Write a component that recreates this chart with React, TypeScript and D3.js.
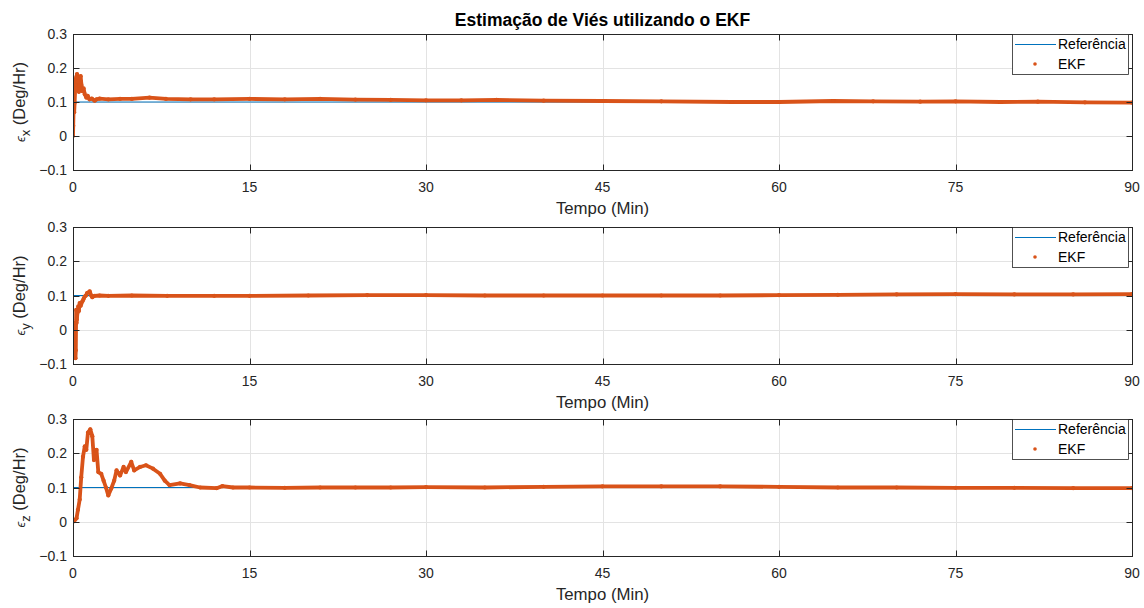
import React from "react";
import * as d3 from "d3";

const TITLE = "Estimação de Viés utilizando o EKF";
const X_LABEL = "Tempo (Min)";
const X_TICKS = [0, 15, 30, 45, 60, 75, 90];
const Y_TICKS = [-0.1, 0, 0.1, 0.2, 0.3];
const LEGEND_LABELS = ["Referência", "EKF"];
const REFERENCE_VALUE = 0.1;
const AXIS_NAMES = ["x", "y", "z"];

// EKF estimate of bias, [time (min), value (deg/hr)]
const exData: [number, number][] = [
  [0, 0], [0.02, 0.03], [0.05, 0.078], [0.1, 0.07], [0.14, 0.098], [0.2, 0.15], [0.23, 0.167],
  [0.3, 0.175], [0.34, 0.182], [0.4, 0.16], [0.45, 0.172], [0.5, 0.13], [0.57, 0.147], [0.65, 0.176],
  [0.72, 0.15], [0.8, 0.132], [0.9, 0.14], [1.0, 0.123], [1.13, 0.113], [1.25, 0.118], [1.4, 0.108],
  [1.6, 0.11], [1.84, 0.104], [2.0, 0.108], [2.26, 0.11], [3, 0.108], [4, 0.109], [5, 0.109],
  [6.5, 0.113], [7.9, 0.109], [10, 0.108], [12, 0.108], [15, 0.109], [18, 0.108], [21, 0.109],
  [24, 0.107], [27, 0.106], [30, 0.105], [33, 0.105], [36, 0.106], [40, 0.104], [45, 0.103],
  [50, 0.102], [56, 0.1], [60, 0.1], [64.6, 0.103], [68, 0.102], [72, 0.101], [75, 0.102],
  [78.8, 0.1], [82, 0.101], [86, 0.099], [90, 0.098],
];

const eyData: [number, number][] = [
  [0, 0], [0.03, -0.02], [0.06, 0.02], [0.09, -0.05], [0.12, 0.01], [0.15, -0.07], [0.18, -0.03],
  [0.21, -0.083], [0.24, -0.06], [0.27, 0.058], [0.3, 0.02], [0.33, 0.03], [0.38, 0.05],
  [0.45, 0.068], [0.5, 0.055], [0.57, 0.078], [0.65, 0.07], [0.8, 0.083], [0.9, 0.09], [1.0, 0.097],
  [1.1, 0.1], [1.2, 0.107], [1.42, 0.112], [1.55, 0.1], [1.64, 0.095], [1.84, 0.099], [2.26, 0.1],
  [3, 0.099], [5, 0.1], [8, 0.099], [12, 0.099], [15, 0.099], [20, 0.1], [25, 0.101], [30, 0.101],
  [35, 0.1], [40, 0.1], [45, 0.1], [50, 0.1], [55, 0.1], [60, 0.101], [65, 0.102],
  [70, 0.103], [75, 0.104], [80, 0.103], [85, 0.103], [90, 0.104],
];

const ezData: [number, number][] = [
  [0, 0], [0.15, 0.005], [0.3, 0.01], [0.42, 0.035], [0.57, 0.065], [0.7, 0.13], [0.85, 0.19],
  [1.0, 0.22], [1.13, 0.21], [1.27, 0.26], [1.47, 0.27], [1.64, 0.25], [1.78, 0.18], [2.0, 0.21],
  [2.15, 0.145], [2.4, 0.14], [2.6, 0.12], [2.8, 0.1], [3.0, 0.077], [3.25, 0.097], [3.5, 0.12],
  [3.7, 0.15], [4.0, 0.135], [4.3, 0.16], [4.5, 0.145], [4.95, 0.175], [5.2, 0.15], [5.7, 0.16],
  [6.2, 0.165], [6.8, 0.155], [7.4, 0.14], [7.8, 0.12], [8.2, 0.107], [9.1, 0.112], [9.9, 0.107],
  [10.8, 0.1], [12.2, 0.098], [12.7, 0.104], [13.6, 0.1], [15, 0.1], [18, 0.099], [21, 0.1],
  [24, 0.1], [27, 0.1], [30, 0.101], [35, 0.1], [40, 0.102], [45, 0.103], [50, 0.103],
  [55, 0.103], [60, 0.102], [65, 0.1], [70, 0.1], [75, 0.099], [80, 0.099], [85, 0.098], [90, 0.098],
];

const SERIES = [exData, eyData, ezData];

const W = 1144;
const H = 608;
const LEFT = 73;
const RIGHT = 1132;
const PANELS = [
  { top: 34, bottom: 170 },
  { top: 227, bottom: 364 },
  { top: 419, bottom: 556 },
];

const BLUE = "#0072BD";
const ORANGE = "#D95319";
const AXC = "#262626";
const GRID = "#e3e3e3";
const FONT = "'Liberation Sans', Arial, Helvetica, sans-serif";

const crisp = (v: number) => Math.round(v) + 0.5;

function Panel({ idx }: { idx: number }) {
  const { top, bottom } = PANELS[idx];
  const data = SERIES[idx];
  const x = d3.scaleLinear().domain([0, 90]).range([LEFT, RIGHT]);
  const y = d3.scaleLinear().domain([-0.1, 0.3]).range([bottom, top]);
  const line = d3
    .line<[number, number]>()
    .x((d) => x(d[0]))
    .y((d) => y(d[1]));
  const tickLen = 6;
  const clipId = `clip${idx}`;
  const ly = top;
  const L = crisp(LEFT);
  const R = crisp(RIGHT);
  const T = crisp(top);
  const B = crisp(bottom);
  return (
    <g>
      <defs>
        <clipPath id={clipId}>
          <rect x={LEFT} y={top} width={RIGHT - LEFT} height={bottom - top} />
        </clipPath>
      </defs>
      <rect x={LEFT} y={top} width={RIGHT - LEFT} height={bottom - top} fill="#fff" />
      {/* grid */}
      {X_TICKS.slice(1, -1).map((t) => (
        <line key={"gx" + t} x1={crisp(x(t))} x2={crisp(x(t))} y1={T} y2={B} stroke={GRID} strokeWidth={1} />
      ))}
      {Y_TICKS.slice(1, -1).map((t) => (
        <line key={"gy" + t} x1={L} x2={R} y1={crisp(y(t))} y2={crisp(y(t))} stroke={GRID} strokeWidth={1} />
      ))}
      {/* data */}
      <g clipPath={`url(#${clipId})`}>
        <line
          x1={x(0)}
          x2={x(90)}
          y1={y(REFERENCE_VALUE)}
          y2={y(REFERENCE_VALUE)}
          stroke={BLUE}
          strokeWidth={1}
        />
        <path d={line(data) || ""} stroke={ORANGE} strokeWidth={3.8} fill="none" strokeLinejoin="round" />
        {data.map((d, i) => (
          <circle key={i} cx={x(d[0])} cy={y(d[1])} r={2.1} fill={ORANGE} />
        ))}
      </g>
      {/* box */}
      <rect x={L} y={T} width={R - L} height={B - T} fill="none" stroke={AXC} strokeWidth={1} />
      {/* ticks */}
      {X_TICKS.map((t) => (
        <g key={"xt" + t}>
          <line x1={crisp(x(t))} x2={crisp(x(t))} y1={B} y2={B - tickLen} stroke={AXC} />
          <line x1={crisp(x(t))} x2={crisp(x(t))} y1={T} y2={T + tickLen} stroke={AXC} />
          <text x={x(t)} y={bottom + 22} textAnchor="middle" fontSize={14} fill={AXC} fontFamily={FONT}>
            {t}
          </text>
        </g>
      ))}
      {Y_TICKS.map((t) => (
        <g key={"yt" + t}>
          <line x1={L} x2={L + tickLen} y1={crisp(y(t))} y2={crisp(y(t))} stroke={AXC} />
          <line x1={R} x2={R - tickLen} y1={crisp(y(t))} y2={crisp(y(t))} stroke={AXC} />
          <text x={LEFT - 6} y={y(t) + 5} textAnchor="end" fontSize={14} fill={AXC} fontFamily={FONT}>
            {d3.format("")(+t.toFixed(1))}
          </text>
        </g>
      ))}
      {/* x label */}
      <text x={(LEFT + RIGHT) / 2} y={bottom + 44} textAnchor="middle" fontSize={16.8} fill={AXC} fontFamily={FONT}>
        {X_LABEL}
      </text>
      {/* y label */}
      <text
        transform={`translate(25, ${(top + bottom) / 2}) rotate(-90)`}
        textAnchor="middle"
        fontSize={16.5}
        fill={AXC}
        fontFamily={FONT}
      >
        <tspan fontSize={13} fontStyle="italic">ϵ</tspan>
        <tspan fontSize={13} dy={5}>{AXIS_NAMES[idx]}</tspan>
        <tspan dy={-5}> (Deg/Hr)</tspan>
      </text>
      {/* legend */}
      <g>
        <rect x={1012.5} y={ly + 0.5} width={116} height={40} fill="#fff" stroke={AXC} strokeWidth={0.8} />
        <line x1={1015} x2={1056} y1={ly + 10.5} y2={ly + 10.5} stroke={BLUE} strokeWidth={1} />
        <text x={1058} y={ly + 15} fontSize={14} fill="#000" fontFamily={FONT}>
          {LEGEND_LABELS[0]}
        </text>
        <circle cx={1035} cy={ly + 30} r={1.8} fill={ORANGE} />
        <text x={1058} y={ly + 35} fontSize={14} fill="#000" fontFamily={FONT}>
          {LEGEND_LABELS[1]}
        </text>
      </g>
    </g>
  );
}

export default function App() {
  return (
    <svg
      width={W}
      height={H}
      viewBox={`0 0 ${W} ${H}`}
      style={{ position: "absolute", left: 0, top: 0, display: "block", background: "#fff" }}
    >
      <rect width={W} height={H} fill="#fff" />
      <text
        x={(LEFT + RIGHT) / 2}
        y={26}
        textAnchor="middle"
        fontSize={17.5}
        fontWeight="bold"
        fill="#000"
        fontFamily={FONT}
      >
        {TITLE}
      </text>
      {PANELS.map((_, i) => (
        <Panel key={i} idx={i} />
      ))}
    </svg>
  );
}
